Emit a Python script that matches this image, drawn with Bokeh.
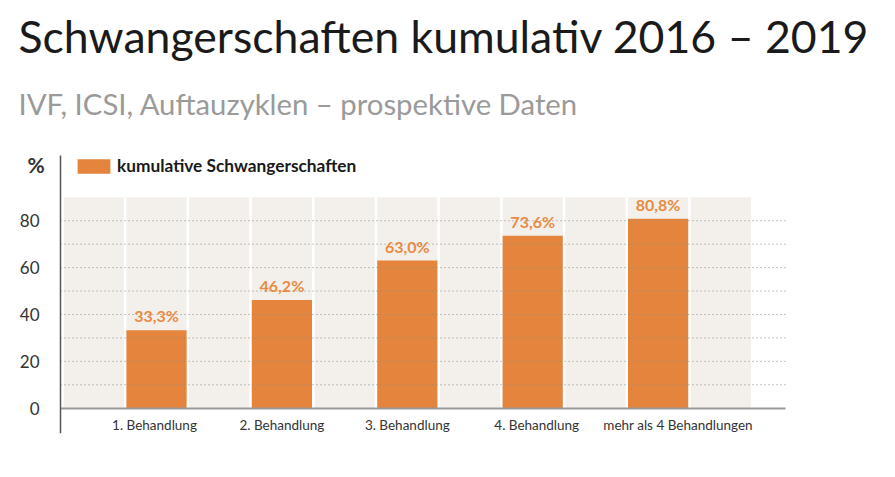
from bokeh.plotting import figure
from bokeh.models import Range1d, FixedTicker, Label, Legend, LegendItem, ColumnDataSource
from bokeh.core.properties import value
from bokeh.embed import file_html
from bokeh.resources import INLINE

# ---- data ----
categories = ["1. Behandlung", "2. Behandlung", "3. Behandlung", "4. Behandlung", "mehr als 4 Behandlungen"]
values = [33.3, 46.2, 63.0, 73.6, 80.8]
y_ticks = [0, 20, 40, 60, 80]
grid_ticks = [10, 20, 30, 40, 50, 60, 70, 80]
title_text = "Schwangerschaften kumulativ 2016 – 2019"
subtitle_text = "IVF, ICSI, Auftauzyklen – prospektive Daten"
legend_text = "kumulative Schwangerschaften"
y_label = "%"

# ---- style ----
FONT = "Lato"
ORANGE = "#E5853D"
LABEL_ORANGE = "#E88B44"
BG = "#F3F0EB"
label_dx = [-2, 0, 0, 4, 20]   # small horizontal nudges of category labels (px)
X0, X1 = -1.244, 5.893          # frame covers the whole canvas width
AX_X = -0.7656                  # where the y axis sits
GRID_END = 5.016                # where the x axis / dotted lines stop
Y0, Y1 = -10.8, 174.0
BG_TOP = 90

n = len(categories)
xs = list(range(n))
labels = [f"{v:.1f}".replace(".", ",") + "%" for v in values]
bg_x = [i / 2 - 0.5 for i in range(2 * n + 1)]

src = ColumnDataSource(dict(x=xs, top=values, lab=labels, cat=categories,
                            cy=[-7.0] * n, dx=label_dx))
bg_src = ColumnDataSource(dict(x=bg_x, top=[BG_TOP] * len(bg_x)))
grid_src = ColumnDataSource(dict(y=grid_ticks, x0=[AX_X] * len(grid_ticks),
                                 x1=[GRID_END] * len(grid_ticks)))

p = figure(width=895, height=477, output_backend="svg", toolbar_location=None,
           x_range=Range1d(X0, X1), y_range=Range1d(Y0, Y1),
           min_border_left=0, min_border_right=0,
           min_border_top=0, min_border_bottom=44, title=None)
p.outline_line_color = None
p.background_fill_color = "white"
p.xgrid.visible = False
p.ygrid.visible = False

# background columns
p.vbar(x="x", top="top", bottom=0, width=0.48, source=bg_src, fill_color=BG, line_color=None)
# bars
bars = p.vbar(x="x", top="top", bottom=0, width=0.48, source=src, fill_color=ORANGE, line_color=None)
# dotted grid lines (on top of the bars)
p.segment(x0="x0", x1="x1", y0="y", y1="y", source=grid_src, line_color="#8a8a8a",
          line_dash="1 3", line_width=1)

# x axis line at zero
xax = p.xaxis[0]
xax.fixed_location = 0
xax.bounds = (AX_X, GRID_END)
xax.axis_line_color = "#9a9a9a"
xax.axis_line_width = 2
xax.major_tick_line_color = None
xax.minor_tick_line_color = None
xax.major_label_text_font_size = "0px"
xax.ticker = FixedTicker(ticks=[])

# y axis
yax = p.yaxis[0]
yax.fixed_location = AX_X
yax.bounds = (Y0, 107.9)
yax.ticker = FixedTicker(ticks=y_ticks)
yax.major_tick_line_color = None
yax.minor_tick_line_color = None
yax.major_label_standoff = 15
yax.major_label_text_font = FONT
yax.major_label_text_font_size = "17px"
yax.major_label_text_color = "#333333"
yax.axis_line_color = "#555555"
yax.axis_line_width = 1.5

# value labels
p.text(x="x", y="top", text="lab", source=src, text_font=value(FONT), text_font_style="bold",
       text_font_size="16px", text_color=LABEL_ORANGE, text_align="center",
       text_baseline="bottom", y_offset=-5)
# category labels
p.text(x="x", y="cy", text="cat", source=src, text_font=value(FONT),
       text_font_size="13.5px", text_color="#333333", text_align="center",
       text_baseline="middle", x_offset="dx")

# legend
legend = Legend(items=[LegendItem(label=legend_text, renderers=[bars])],
                location=(73, 257), orientation="horizontal", padding=0, margin=0,
                glyph_width=41, glyph_height=18, label_height=18, label_standoff=3,
                label_text_font=FONT, label_text_font_style="bold",
                label_text_font_size="17.3px", label_text_color="#1a1a1a",
                background_fill_alpha=0, border_line_color=None)
p.add_layout(legend)

# titles
p.add_layout(Label(x=18, y=34.7, x_units="canvas", y_units="canvas", text=title_text, text_font=FONT,
                   text_font_size="44.6px", text_color="#1a1a1a", text_baseline="alphabetic"))
p.add_layout(Label(x=18, y=103, x_units="canvas", y_units="canvas", text=subtitle_text, text_font=FONT,
                   text_font_size="29.3px", text_color="#9a9a9a", text_baseline="alphabetic"))
p.add_layout(Label(x=27, y=164.4, x_units="canvas", y_units="canvas", text=y_label, text_font=FONT,
                   text_font_style="bold", text_font_size="21px", text_color="#333333",
                   text_baseline="alphabetic"))

open("out.html", "w").write(file_html(p, INLINE))
